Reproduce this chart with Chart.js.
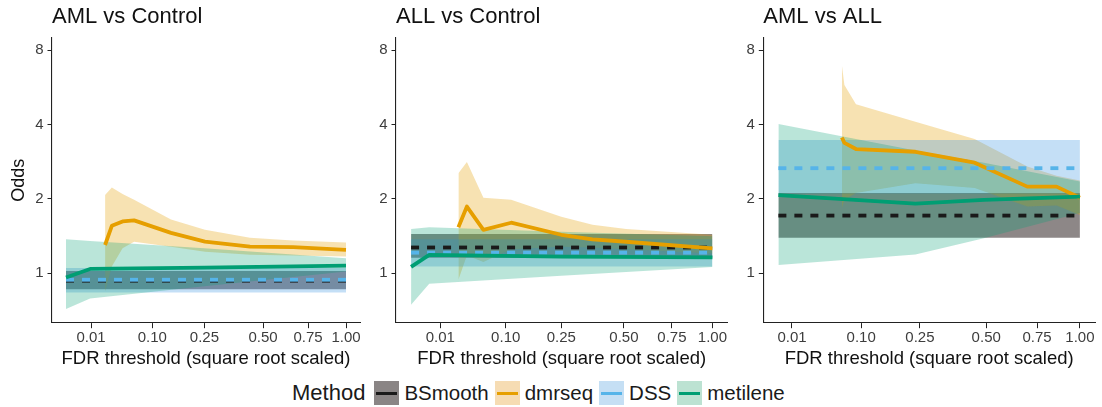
<!DOCTYPE html>
<html>
<head>
<meta charset="utf-8">
<script src="https://cdn.jsdelivr.net/npm/chart.js@4.4.1/dist/chart.umd.min.js"></script>
<style>
  body { margin: 0; background: #fff; font-family: "Liberation Sans", Arial, sans-serif; }
  #wrap { position: relative; width: 1102px; height: 407px; overflow: hidden; }
  #wrap canvas { position: absolute; top: 0; }
  #legend { position: absolute; left: 292px; top: 381px; height: 24px; display: flex; align-items: center; color: #1a1a1a; }
  #legend .ttl { font-size: 22px; margin-right: 9px; }
  #legend .key { position: relative; width: 25px; height: 24px; }
  #legend .key i { position: absolute; left: 2px; right: 2px; top: 10.5px; height: 3.5px; }
  #legend .lab { font-size: 20.5px; margin: 0 6px 0 5px; }
</style>
</head>
<body>
<div id="wrap">
  <canvas id="p1" width="365" height="372" style="left:0px;width:365px;height:372px"></canvas>
  <canvas id="p2" width="365" height="372" style="left:365px;width:365px;height:372px"></canvas>
  <canvas id="p3" width="372" height="372" style="left:730px;width:372px;height:372px"></canvas>
  <div id="legend"></div>
</div>
<script>
// axis ticks
var fdrTicks = [0.01, 0.10, 0.25, 0.50, 0.75, 1.00];
var oddsTicks = [1, 2, 4, 8];
var oddsMin = 0.63, oddsMax = 8.97;
var methods = ['BSmooth', 'dmrseq', 'DSS', 'metilene'];

// AML vs Control
var p1RangeFdr = [0.00013, 1.0];
var p1BsOdds = 0.932, p1BsLo = 0.86, p1BsHi = 1.02;
var p1DssOdds = 0.94, p1DssLo = 0.835, p1DssHi = 1.05;
var p1DmrFdr = [0.0223, 0.030, 0.0446, 0.0634, 0.146, 0.252, 0.437, 0.661, 1.0];
var p1DmrOdds = [1.30, 1.554, 1.62, 1.635, 1.456, 1.342, 1.281, 1.274, 1.242];
var p1DmrHi = [2.07, 2.22, 2.09, 1.98, 1.65, 1.50, 1.39, 1.357, 1.33];
var p1DmrLo = [0.842, 1.064, 1.26, 1.34, 1.28, 1.22, 1.186, 1.18, 1.167];
var p1MetFdr = [0.00013, 0.0093, 0.25, 1.0];
var p1MetOdds = [0.96, 1.04, 1.053, 1.073];
var p1MetHi = [1.37, 1.35, 1.26, 1.15];
var p1MetLo = [0.715, 0.79, 0.884, 1.015];

// ALL vs Control
var p2RangeFdr = [0.00001, 1.0];
var p2BsOdds = 1.27, p2BsLo = 1.153, p2BsHi = 1.44;
var p2DssOdds = 1.21, p2DssLo = 1.064, p2DssHi = 1.37;
var p2DmrFdr = [0.0255, 0.0353, 0.0588, 0.1117, 0.25, 0.364, 0.511, 1.0];
var p2DmrOdds = [1.535, 1.86, 1.497, 1.60, 1.43, 1.37, 1.34, 1.26];
var p2DmrHi = [2.54, 2.82, 2.02, 1.98, 1.69, 1.57, 1.51, 1.43];
var p2DmrLo = [0.94, 1.18, 1.11, 1.25, 1.28, 1.27, 1.25, 1.20];
var p2MetFdr = [0.00001, 0.004, 0.25, 1.0];
var p2MetOdds = [1.06, 1.186, 1.167, 1.158];
var p2MetHi = [1.51, 1.535, 1.47, 1.41];
var p2MetLo = [0.744, 0.905, 0.976, 1.06];

// AML vs ALL
var p3RangeFdr = [0.0033, 1.0];
var p3BsOdds = 1.71, p3BsLo = 1.39, p3BsHi = 2.11;
var p3DssOdds = 2.66, p3DssLo = 2.10, p3DssHi = 3.46;
var p3DmrFdr = [0.0655, 0.0696, 0.090, 0.236, 0.450, 0.698, 0.859, 1.0];
var p3DmrOdds = [3.54, 3.37, 3.18, 3.10, 2.80, 2.24, 2.24, 2.02];
var p3DmrHi = [6.96, 5.78, 4.83, 4.10, 3.49, 2.70, 2.48, 2.37];
var p3DmrLo = [1.83, 1.98, 2.11, 2.31, 2.21, 1.86, 1.88, 1.72];
var p3MetFdr = [0.0033, 0.236, 0.49, 1.0];
var p3MetOdds = [2.07, 1.91, 1.98, 2.04];
var p3MetHi = [4.02, 3.14, 2.80, 2.35];
var p3MetLo = [1.08, 1.19, 1.385, 1.75];

var styles = {
  BSmooth:  { line: '#1a1a1a', fill: 'rgba(12,0,0,0.47)',     key: '#8a8585', dash: [8, 8] },
  dmrseq:   { line: '#E69F00', fill: 'rgba(230,159,0,0.3)',   key: '#f6dcb3', dash: [] },
  DSS:      { line: '#56B4E9', fill: 'rgba(60,150,225,0.3)',  key: '#c5dff4', dash: [8, 8] },
  metilene: { line: '#009E73', fill: 'rgba(0,158,115,0.27)',  key: '#bce2d2', dash: [] }
};

function pts(fdr, odds) {
  return fdr.map(function(f, i) {
    return { x: Math.sqrt(f), y: Array.isArray(odds) ? odds[i] : odds };
  });
}

var panels = [
  { id: 'p1', title: 'AML vs Control', yTitle: true, axisW: 52, padRight: 5,
    series: {
      BSmooth: [p1RangeFdr, p1BsOdds, p1BsLo, p1BsHi],
      dmrseq: [p1DmrFdr, p1DmrOdds, p1DmrLo, p1DmrHi],
      DSS: [p1RangeFdr, p1DssOdds, p1DssLo, p1DssHi],
      metilene: [p1MetFdr, p1MetOdds, p1MetLo, p1MetHi]
    } },
  { id: 'p2', title: 'ALL vs Control', yTitle: false, axisW: 31, padRight: 2.5,
    series: {
      BSmooth: [p2RangeFdr, p2BsOdds, p2BsLo, p2BsHi],
      dmrseq: [p2DmrFdr, p2DmrOdds, p2DmrLo, p2DmrHi],
      DSS: [p2RangeFdr, p2DssOdds, p2DssLo, p2DssHi],
      metilene: [p2MetFdr, p2MetOdds, p2MetLo, p2MetHi]
    } },
  { id: 'p3', title: 'AML vs ALL', yTitle: false, axisW: 33.3, padRight: 7,
    series: {
      BSmooth: [p3RangeFdr, p3BsOdds, p3BsLo, p3BsHi],
      dmrseq: [p3DmrFdr, p3DmrOdds, p3DmrLo, p3DmrHi],
      DSS: [p3RangeFdr, p3DssOdds, p3DssLo, p3DssHi],
      metilene: [p3MetFdr, p3MetOdds, p3MetLo, p3MetHi]
    } }
];

var tickColor = '#3d3d3d';
var axisColor = '#222';

function makeChart(panel) {
  var ds = [];
  // ribbons first, then lines (ggplot layer order)
  methods.forEach(function(m) {
    var s = panel.series[m];
    var hiIdx = ds.length;
    ds.push({ data: pts(s[0], s[3]), borderWidth: 0, borderColor: 'transparent',
      backgroundColor: styles[m].fill, fill: hiIdx + 1, pointRadius: 0 });
    ds.push({ data: pts(s[0], s[2]), borderWidth: 0, borderColor: 'transparent',
      fill: false, pointRadius: 0 });
  });
  methods.forEach(function(m) {
    var s = panel.series[m];
    ds.push({ data: pts(s[0], s[1]), borderColor: styles[m].line, borderWidth: 3.8,
      borderDash: styles[m].dash, borderCapStyle: 'butt', borderJoinStyle: 'round',
      fill: false, pointRadius: 0 });
  });
  ds.forEach(function(d, i) { d.order = ds.length - i; d.tension = 0; });

  // x range: sqrt scale with 5% expansion of the data range
  var xs = [];
  methods.forEach(function(m) { panel.series[m][0].forEach(function(f) { xs.push(Math.sqrt(f)); }); });
  var xLo = Math.min.apply(null, xs), xHi = Math.max.apply(null, xs);
  var ex = (xHi - xLo) * 0.05;

  return new Chart(document.getElementById(panel.id), {
    type: 'line',
    data: { datasets: ds },
    options: {
      responsive: false,
      animation: false,
      layout: { padding: { left: 0, right: panel.padRight, top: 0, bottom: 0 } },
      plugins: {
        legend: { display: false },
        tooltip: { enabled: false },
        title: { display: true, text: panel.title, align: 'start', fullSize: false,
          color: '#111', font: { family: '"Liberation Sans", Arial, sans-serif', size: 22, weight: 'normal' },
          padding: { top: 4, bottom: 7.4 } }
      },
      scales: {
        x: {
          type: 'linear', min: xLo - ex, max: xHi + ex, bounds: 'data',
          afterBuildTicks: function(sc) {
            sc.ticks = fdrTicks.map(function(v) { return { value: Math.sqrt(v) }; });
            sc.min = xLo - ex; sc.max = xHi + ex;
          },
          afterFit: function(sc) { sc.height = 49.3; },
          grid: { display: true, drawOnChartArea: false, drawTicks: true, tickLength: 5.5, color: axisColor, lineWidth: 1 },
          border: { display: true, color: axisColor, width: 1.1 },
          ticks: { color: tickColor, padding: 0.5, maxRotation: 0, autoSkip: false,
            font: { family: '"Liberation Sans", Arial, sans-serif', size: 15 },
            callback: function(v, i) { return fdrTicks[i].toFixed(2); } },
          title: { display: true, text: 'FDR threshold (square root scaled)', color: '#111',
            font: { family: '"Liberation Sans", Arial, sans-serif', size: 18.5 },
            padding: { top: 0, bottom: 1.5 } }
        },
        y: {
          type: 'logarithmic', min: oddsMin, max: oddsMax, bounds: 'data',
          afterBuildTicks: function(sc) {
            sc.ticks = oddsTicks.map(function(v) { return { value: v }; });
            sc.min = oddsMin; sc.max = oddsMax;
          },
          afterFit: function(sc) { sc.width = panel.axisW; },
          grid: { display: true, drawOnChartArea: false, drawTicks: true, tickLength: 4.5, color: axisColor, lineWidth: 1 },
          border: { display: true, color: axisColor, width: 1.1 },
          ticks: { color: tickColor, padding: 4, autoSkip: false,
            font: { family: '"Liberation Sans", Arial, sans-serif', size: 15 },
            callback: function(v) { return String(v); } },
          title: { display: panel.yTitle, text: 'Odds', color: '#111',
            font: { family: '"Liberation Sans", Arial, sans-serif', size: 18 },
            padding: { top: 8.2, bottom: 0 } }
        }
      }
    }
  });
}

panels.forEach(makeChart);

// shared legend
var leg = document.getElementById('legend');
var html = '<span class="ttl">Method</span>';
methods.forEach(function(m) {
  html += '<span class="key" style="background:' + styles[m].key + '"><i style="background:' + styles[m].line + '"></i></span>' +
    '<span class="lab">' + m + '</span>';
});
leg.innerHTML = html;
</script>
</body>
</html>
